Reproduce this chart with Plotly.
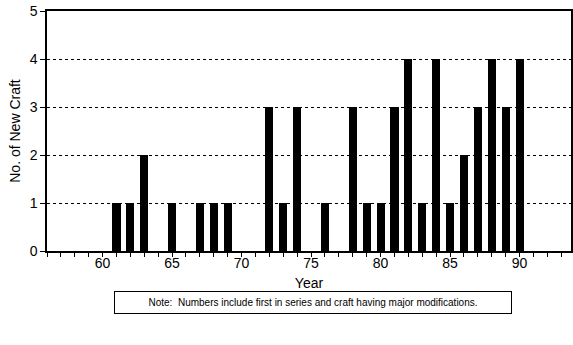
import plotly.graph_objects as go

years = [61, 62, 63, 65, 67, 68, 69, 72, 73, 74, 76, 78, 79, 80,
         81, 82, 83, 84, 85, 86, 87, 88, 89, 90]
new_craft = [1, 1, 2, 1, 1, 1, 1, 3, 1, 3, 1, 3, 1, 1,
             3, 4, 1, 4, 1, 2, 3, 4, 3, 4]

note_text = "Note:  Numbers include first in series and craft having major modifications."

FONT = "Liberation Sans, Arial, sans-serif"

fig = go.Figure()
fig.add_trace(go.Bar(
    x=years,
    y=new_craft,
    width=0.58,
    marker=dict(color="black", line=dict(width=0)),
    showlegend=False,
))

fig.update_layout(
    width=573,
    height=345,
    margin=dict(l=47, r=2, t=11, b=94),
    paper_bgcolor="white",
    plot_bgcolor="white",
    font=dict(family=FONT, color="black", size=13),
    bargap=0,
    xaxis=dict(
        range=[56.0, 93.7],
        tick0=60,
        dtick=5,
        ticks="outside",
        ticklen=4,
        tickcolor="black",
        showgrid=False,
        zeroline=False,
        showline=True,
        linecolor="black",
        linewidth=2,
        mirror=True,
        automargin=False,
        ticklabelstandoff=-6,
        minor=dict(dtick=1, tick0=60, ticks="outside", ticklen=4, tickcolor="black", showgrid=False),
        title=dict(text="Year", standoff=8, font=dict(size=14)),
        tickfont=dict(size=14),
    ),
    yaxis=dict(
        range=[0, 5],
        dtick=1,
        ticks="outside",
        ticklen=5,
        tickcolor="black",
        showgrid=True,
        gridcolor="black",
        griddash="dot",
        gridwidth=1,
        zeroline=False,
        showline=True,
        linecolor="black",
        linewidth=1.5,
        mirror=True,
        automargin=False,
        title=dict(text="No. of New Craft", standoff=6, font=dict(size=14)),
        tickfont=dict(size=14),
    ),
    annotations=[dict(
        text=note_text,
        xref="paper", yref="paper",
        x=0.508, y=-0.2125,
        xanchor="center", yanchor="middle",
        showarrow=False,
        width=390,
        height=15,
        bordercolor="black",
        borderwidth=1,
        borderpad=3,
        font=dict(size=10, family=FONT),
    )],
)

# drop the browser's default 8px body margin so the figure sits at the window corner
fig.write_html(
    "out.html",
    config={"displayModeBar": False},
    post_script="document.body.style.margin='0';",
)
